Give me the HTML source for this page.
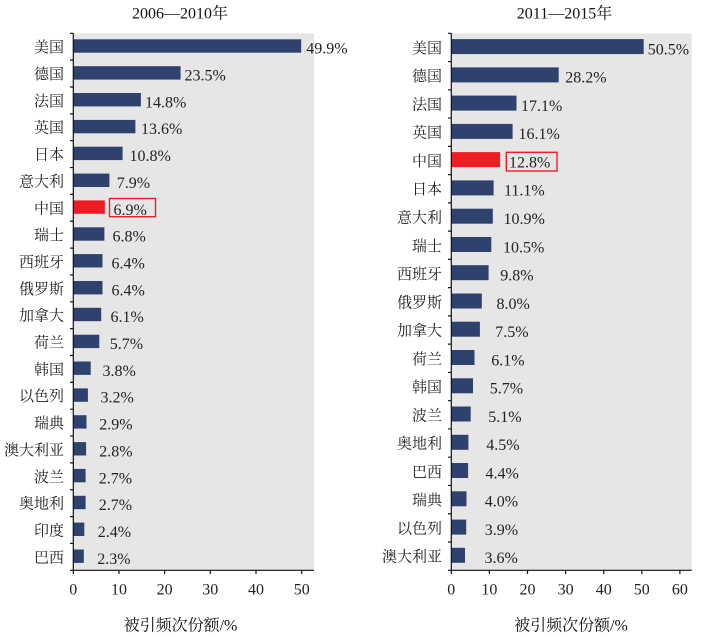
<!DOCTYPE html>
<html><head><meta charset="utf-8"><style>
html,body{margin:0;padding:0;background:#fff;}
svg{display:block;}
.num{font-family:"Liberation Serif","Noto Serif CJK SC",serif;font-size:16px;fill:#222;}
.cat{font-family:"Liberation Serif","Noto Serif CJK SC",serif;font-size:15px;fill:#222;}
.ttl{font-family:"Liberation Serif","Noto Serif CJK SC",serif;font-size:16px;fill:#111;}
</style></head><body>
<svg width="703" height="637" viewBox="0 0 703 637" xmlns="http://www.w3.org/2000/svg">
<!-- LEFT PANEL -->
<rect x="73.3" y="33.3" width="240.7" height="537" fill="#e6e6e6"/>
<g id="L"></g>
<text class="ttl" x="180" y="18.5" text-anchor="middle">2006—2010年</text>
<text class="ttl" x="180.5" y="626" text-anchor="middle" dominant-baseline="central">被引频次份额/%</text>

<!-- RIGHT PANEL -->
<rect x="451.3" y="33.3" width="240.4" height="537" fill="#e6e6e6"/>
<g id="R"></g>
<text class="ttl" x="564.5" y="18.5" text-anchor="middle">2011—2015年</text>
<text class="ttl" x="571" y="626" text-anchor="middle" dominant-baseline="central">被引频次份额/%</text>

<!-- LEFT bars -->
<g fill="#2f426e">
<rect x="73.3" y="39.3" width="227.9" height="13.4"/>
<rect x="73.3" y="66.2" width="107.3" height="13.4"/>
<rect x="73.3" y="93.0" width="67.6" height="13.4"/>
<rect x="73.3" y="119.9" width="62.1" height="13.4"/>
<rect x="73.3" y="146.7" width="49.3" height="13.4"/>
<rect x="73.3" y="173.6" width="36.1" height="13.4"/>
<rect x="73.3" y="227.3" width="31.1" height="13.4"/>
<rect x="73.3" y="254.1" width="29.2" height="13.4"/>
<rect x="73.3" y="281.0" width="29.2" height="13.4"/>
<rect x="73.3" y="307.8" width="27.9" height="13.4"/>
<rect x="73.3" y="334.7" width="26.0" height="13.4"/>
<rect x="73.3" y="361.5" width="17.4" height="13.4"/>
<rect x="73.3" y="388.4" width="14.6" height="13.4"/>
<rect x="73.3" y="415.2" width="13.2" height="13.4"/>
<rect x="73.3" y="442.1" width="12.8" height="13.4"/>
<rect x="73.3" y="468.9" width="12.3" height="13.4"/>
<rect x="73.3" y="495.8" width="12.3" height="13.4"/>
<rect x="73.3" y="522.6" width="11.0" height="13.4"/>
<rect x="73.3" y="549.5" width="10.5" height="13.4"/>
</g>
<rect x="73.3" y="200.4" width="31.5" height="13.4" fill="#ee1d24"/>
<rect x="109.5" y="198.5" width="46" height="18.2" fill="none" stroke="#ee1d24" stroke-width="1.4"/>

<!-- LEFT axes -->
<g stroke="#111" stroke-width="1.2" fill="none">
<line x1="73.3" y1="33.3" x2="73.3" y2="570.3"/>
<line x1="70" y1="570.3" x2="314" y2="570.3"/>
<path d="M70 33.3H73.3M70 60.15H73.3M70 87H73.3M70 113.85H73.3M70 140.7H73.3M70 167.55H73.3M70 194.4H73.3M70 221.25H73.3M70 248.1H73.3M70 274.95H73.3M70 301.8H73.3M70 328.65H73.3M70 355.5H73.3M70 382.35H73.3M70 409.2H73.3M70 436.05H73.3M70 462.9H73.3M70 489.75H73.3M70 516.6H73.3M70 543.45H73.3"/>
<path d="M73.3 570.3V574M119 570.3V574M164.6 570.3V574M210.3 570.3V574M256 570.3V574M301.7 570.3V574"/>
</g>
<g class="num" text-anchor="middle">
<text x="73.3" y="594.3">0</text><text x="119" y="594.3">10</text><text x="164.6" y="594.3">20</text><text x="210.3" y="594.3">30</text><text x="256" y="594.3">40</text><text x="301.7" y="594.3">50</text>
</g>
<g class="cat" text-anchor="end" dominant-baseline="central">
<text x="64" y="48.2">美国</text><text x="64" y="75">德国</text><text x="64" y="101.9">法国</text><text x="64" y="128.7">英国</text><text x="64" y="155.6">日本</text><text x="64" y="182.4">意大利</text><text x="64" y="209.3">中国</text><text x="64" y="236.1">瑞士</text><text x="64" y="263">西班牙</text><text x="64" y="289.8">俄罗斯</text><text x="64" y="316.7">加拿大</text><text x="64" y="343.5">荷兰</text><text x="64" y="370.4">韩国</text><text x="64" y="397.2">以色列</text><text x="64" y="424.1">瑞典</text><text x="64" y="450.9">澳大利亚</text><text x="64" y="477.8">波兰</text><text x="64" y="504.6">奥地利</text><text x="64" y="531.5">印度</text><text x="64" y="558.3">巴西</text>
</g>
<g class="num">
<text x="306.2" y="53.7">49.9%</text><text x="184.5" y="80.5">23.5%</text><text x="145" y="107.4">14.8%</text><text x="141" y="134.2">13.6%</text><text x="129.5" y="161.1">10.8%</text><text x="116.8" y="187.9">7.9%</text><text x="113.5" y="214.8">6.9%</text><text x="112.5" y="241.6">6.8%</text><text x="111.5" y="268.5">6.4%</text><text x="111.5" y="295.3">6.4%</text><text x="110.5" y="322.2">6.1%</text><text x="109.8" y="349">5.7%</text><text x="102.5" y="375.9">3.8%</text><text x="100.5" y="402.7">3.2%</text><text x="99.2" y="429.6">2.9%</text><text x="99.2" y="456.4">2.8%</text><text x="98.8" y="483.3">2.7%</text><text x="98.8" y="510.1">2.7%</text><text x="97.8" y="537">2.4%</text><text x="97.2" y="563.8">2.3%</text>
</g>

<!-- RIGHT bars -->
<g fill="#2f426e">
<rect x="451.3" y="39.1" width="192.4" height="15"/>
<rect x="451.3" y="67.4" width="107.4" height="15"/>
<rect x="451.3" y="95.6" width="65.2" height="15"/>
<rect x="451.3" y="123.9" width="61.3" height="15"/>
<rect x="451.3" y="180.4" width="42.3" height="15"/>
<rect x="451.3" y="208.7" width="41.5" height="15"/>
<rect x="451.3" y="237.0" width="40.0" height="15"/>
<rect x="451.3" y="265.2" width="37.3" height="15"/>
<rect x="451.3" y="293.5" width="30.5" height="15"/>
<rect x="451.3" y="321.7" width="28.6" height="15"/>
<rect x="451.3" y="350.0" width="23.2" height="15"/>
<rect x="451.3" y="378.3" width="21.7" height="15"/>
<rect x="451.3" y="406.5" width="19.4" height="15"/>
<rect x="451.3" y="434.8" width="17.1" height="15"/>
<rect x="451.3" y="463.0" width="16.8" height="15"/>
<rect x="451.3" y="491.3" width="15.2" height="15"/>
<rect x="451.3" y="519.6" width="14.9" height="15"/>
<rect x="451.3" y="547.8" width="13.7" height="15"/>
</g>
<rect x="451.3" y="152.1" width="48.8" height="15" fill="#ee1d24"/>
<rect x="506.3" y="152.3" width="50.7" height="18.7" fill="none" stroke="#ee1d24" stroke-width="1.4"/>

<!-- RIGHT axes -->
<g stroke="#111" stroke-width="1.2" fill="none">
<line x1="451.3" y1="33.3" x2="451.3" y2="570.3"/>
<line x1="448" y1="570.3" x2="691.7" y2="570.3"/>
<path d="M448 33.3H451.3M448 61.56H451.3M448 89.82H451.3M448 118.08H451.3M448 146.34H451.3M448 174.6H451.3M448 202.86H451.3M448 231.12H451.3M448 259.38H451.3M448 287.64H451.3M448 315.9H451.3M448 344.16H451.3M448 372.42H451.3M448 400.68H451.3M448 428.94H451.3M448 457.2H451.3M448 485.46H451.3M448 513.72H451.3M448 541.98H451.3"/>
<path d="M451.3 570.3V574M489.4 570.3V574M527.5 570.3V574M565.6 570.3V574M603.7 570.3V574M641.8 570.3V574M679.9 570.3V574"/>
</g>
<g class="num" text-anchor="middle">
<text x="451.3" y="594.3">0</text><text x="489.4" y="594.3">10</text><text x="527.5" y="594.3">20</text><text x="565.6" y="594.3">30</text><text x="603.7" y="594.3">40</text><text x="641.8" y="594.3">50</text><text x="679.9" y="594.3">60</text>
</g>
<g class="cat" text-anchor="end" dominant-baseline="central">
<text x="442" y="48.9">美国</text><text x="442" y="77.2">德国</text><text x="442" y="105.5">法国</text><text x="442" y="133.7">英国</text><text x="442" y="162">中国</text><text x="442" y="190.2">日本</text><text x="442" y="218.5">意大利</text><text x="442" y="246.8">瑞士</text><text x="442" y="275">西班牙</text><text x="442" y="303.3">俄罗斯</text><text x="442" y="331.5">加拿大</text><text x="442" y="359.8">荷兰</text><text x="442" y="388.1">韩国</text><text x="442" y="416.3">波兰</text><text x="442" y="444.6">奥地利</text><text x="442" y="472.8">巴西</text><text x="442" y="501.1">瑞典</text><text x="442" y="529.4">以色列</text><text x="442" y="557.6">澳大利亚</text>
</g>
<g class="num">
<text x="647.8" y="54.4">50.5%</text><text x="565.2" y="82.7">28.2%</text><text x="521" y="111">17.1%</text><text x="518.5" y="139.2">16.1%</text><text x="509" y="167.5">12.8%</text><text x="504" y="195.7">11.1%</text><text x="503.5" y="224">10.9%</text><text x="503" y="252.3">10.5%</text><text x="500.2" y="280.5">9.8%</text><text x="496.5" y="308.8">8.0%</text><text x="495.2" y="337">7.5%</text><text x="491.2" y="365.3">6.1%</text><text x="489.8" y="393.6">5.7%</text><text x="488.2" y="421.8">5.1%</text><text x="486.2" y="450.1">4.5%</text><text x="485.5" y="478.3">4.4%</text><text x="484.8" y="506.6">4.0%</text><text x="484.8" y="534.9">3.9%</text><text x="484.5" y="563.1">3.6%</text>
</g>
</svg>
</body></html>
